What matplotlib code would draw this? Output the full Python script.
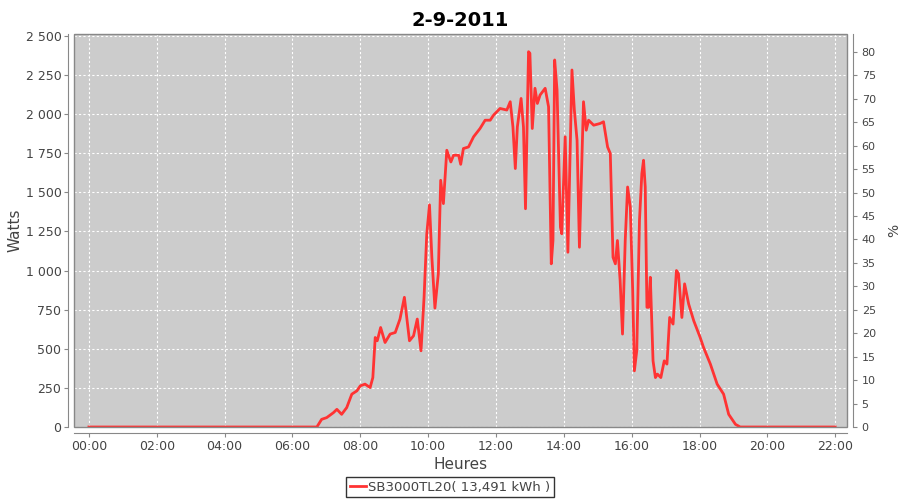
import matplotlib
matplotlib.use('Agg')
import matplotlib.pyplot as plt
from matplotlib.patches import Rectangle
from matplotlib.ticker import FuncFormatter, MultipleLocator

# hours since midnight and power in watts
hours = [0.0, 6.5, 6.72, 6.86, 7.01, 7.21, 7.31, 7.45, 7.6, 7.75, 7.9, 8.0, 8.14, 8.29, 8.37,
         8.44, 8.5, 8.6, 8.73, 8.88, 9.03, 9.17, 9.3, 9.45, 9.57, 9.68, 9.79, 9.88, 9.96,
         10.04, 10.11, 10.2, 10.3, 10.37, 10.45, 10.55, 10.67, 10.75, 10.9, 10.96, 11.04,
         11.19, 11.34, 11.53, 11.68, 11.83, 11.93, 12.12, 12.32, 12.42, 12.5, 12.57, 12.63,
         12.74, 12.81, 12.87, 12.96, 13.0, 13.07, 13.15, 13.22, 13.3, 13.45, 13.55, 13.63,
         13.68, 13.73, 13.8, 13.9, 13.94, 14.04, 14.12, 14.24, 14.31, 14.39, 14.46, 14.58,
         14.66, 14.73, 14.88, 15.07, 15.17, 15.29, 15.37, 15.45, 15.52, 15.58, 15.66, 15.73,
         15.81, 15.88, 15.96, 16.03, 16.08, 16.15, 16.23, 16.3, 16.35, 16.4, 16.45, 16.5,
         16.55, 16.63, 16.7, 16.76, 16.86, 16.96, 17.04, 17.12, 17.22, 17.32, 17.38, 17.48,
         17.56, 17.68, 17.83, 18.02, 18.12, 18.32, 18.52, 18.71, 18.86, 19.06, 19.2, 22.0]
watts = [0, 0, 0, 49, 60, 92, 113, 81, 124, 210, 231, 263, 274, 252, 316,
         572, 551, 636, 540, 594, 604, 690, 829, 551, 583, 690, 487, 829, 1235,
         1420, 1085, 760, 979, 1577, 1428, 1769, 1694, 1737, 1737, 1679, 1780,
         1790, 1855, 1908, 1961, 1961, 1994, 2036, 2026, 2079, 1918, 1652, 1918,
         2100, 1918, 1395, 2399, 2389, 1908, 2165, 2068, 2122, 2165, 2047, 1043,
         1192, 2346, 2154, 1277, 1235, 1855, 1117, 2282, 2026, 1833, 1149, 2079,
         1897, 1961, 1929, 1940, 1951, 1790, 1748, 1085, 1043, 1192, 936, 594,
         1192, 1534, 1405, 872, 359, 487, 1320, 1620, 1705, 1534, 765, 765,
         957, 423, 316, 338, 316, 423, 402, 700, 658, 1000, 979, 700,
         915, 786, 679, 572, 508, 402, 274, 210, 81, 17, 0, 0]

fig = plt.figure(figsize=(9, 5), dpi=100)
fig.patch.set_facecolor('white')
ax = fig.add_axes([0.0822, 0.146, 0.859, 0.786])
ax.set_facecolor('#CCCCCC')

ax.plot(hours, watts, color='#FF3333', lw=2, solid_joinstyle='round', zorder=3)

ax.set_xlim(-0.44, 22.35)
ax.set_ylim(0, 2512)
ax.xaxis.set_major_locator(MultipleLocator(2))
ax.xaxis.set_major_formatter(FuncFormatter(lambda v, p: '%02d:00' % int(round(v))))
ax.yaxis.set_major_locator(MultipleLocator(250))
ax.yaxis.set_major_formatter(FuncFormatter(lambda v, p: '{:,}'.format(int(v)).replace(',', ' ')))
ax.grid(True, color='white', ls=(0, (2, 2)), lw=0.8)
ax.set_axisbelow(True)

for s in ['top', 'right']:
    ax.spines[s].set_visible(False)
for s in ['left', 'bottom']:
    ax.spines[s].set_position(('outward', 4))
    ax.spines[s].set_color('#888888')
ax.add_patch(Rectangle((0, 0), 1, 1, transform=ax.transAxes, fill=False,
                       edgecolor='#888888', lw=1, zorder=4, clip_on=False))
ax.tick_params(colors='#888888', labelcolor='#444444', labelsize=9, length=3, pad=2)

ax.set_xlabel('Heures', fontsize=11, color='#444444', labelpad=3)
ax.set_ylabel('Watts', fontsize=11, color='#444444', labelpad=2)
ax.set_title('2-9-2011', fontsize=14, fontweight='bold', pad=6)

ax2 = ax.twinx()
ax2.set_ylim(0, 83.8)
ax2.yaxis.set_major_locator(MultipleLocator(5))
for s in ['top', 'left', 'bottom']:
    ax2.spines[s].set_visible(False)
ax2.spines['right'].set_position(('outward', 4))
ax2.spines['right'].set_color('#888888')
ax2.tick_params(colors='#888888', labelcolor='#444444', labelsize=8, length=3)
ax2.set_ylabel('%', fontsize=10, color='#444444', labelpad=8)

leg = fig.legend([plt.Line2D([], [], color='#FF3333', lw=2)], ['SB3000TL20( 13,491 kWh )'],
                 loc='center', bbox_to_anchor=(0.5, 0.026), frameon=True, fancybox=False,
                 fontsize=9.5, handlelength=1.2, handletextpad=0.2, borderpad=0.25)
leg.get_frame().set_edgecolor('black')
leg.get_frame().set_linewidth(1)
for t in leg.get_texts():
    t.set_color('#444444')

fig.savefig('out.png', dpi=100)
